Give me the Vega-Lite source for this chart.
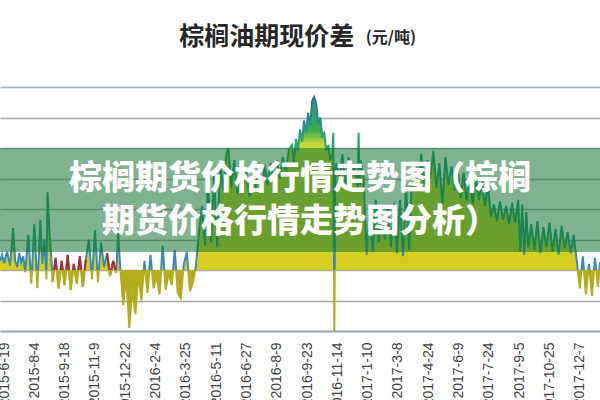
{
  "$schema": "https://vega.github.io/schema/vega-lite/v6.json",
  "width": 600,
  "height": 244,
  "autosize": {"type": "none"},
  "padding": {"top": 87, "left": 0, "right": 0, "bottom": 69},
  "background": "white",
  "config": {
    "view": {"stroke": null},
    "axisY": {
      "grid": true,
      "labels": false,
      "ticks": false,
      "domain": false,
      "title": null,
      "gridWidth": 1.5,
      "gridOpacity": 0.75,
      "zindex": 1
    },
    "axisX": {
      "grid": false,
      "ticks": false,
      "tickSize": 0,
      "domainColor": "#7d9dc4",
      "domainWidth": 1.5,
      "labelAngle": -90,
      "labelPadding": 11,
      "labelFont": "Liberation Sans",
      "labelFontSize": 14,
      "labelColor": "#404040",
      "labelOverlap": false,
      "labelFlush": false,
      "title": null,
      "zindex": 1
    }
  },
  "data": {
    "values": [
      {"day": -4, "spread": 60}, {"day": -2, "spread": 100}, {"day": 0, "spread": 45}, {"day": 3, "spread": 120},
      {"day": 6, "spread": 30}, {"day": 9, "spread": 275}, {"day": 11, "spread": 60}, {"day": 13, "spread": 20},
      {"day": 15, "spread": 110}, {"day": 17, "spread": 50}, {"day": 19, "spread": 90}, {"day": 21, "spread": -15},
      {"day": 24, "spread": 230}, {"day": 27, "spread": -90}, {"day": 30, "spread": 300}, {"day": 33, "spread": -120},
      {"day": 36, "spread": 330}, {"day": 38, "spread": 40}, {"day": 40, "spread": 200}, {"day": 42, "spread": -60},
      {"day": 43, "spread": 510}, {"day": 45, "spread": 250}, {"day": 47, "spread": 60},
      {"day": 48, "spread": -80}, {"day": 51, "spread": 80}, {"day": 54, "spread": -120}, {"day": 57, "spread": 60},
      {"day": 60, "spread": -100}, {"day": 63, "spread": 100}, {"day": 66, "spread": -130}, {"day": 69, "spread": 40},
      {"day": 72, "spread": -90}, {"day": 75, "spread": 90}, {"day": 78, "spread": -110}, {"day": 81, "spread": 70},
      {"day": 84, "spread": 200}, {"day": 87, "spread": -60}, {"day": 90, "spread": 262}, {"day": 93, "spread": -80},
      {"day": 96, "spread": 180}, {"day": 99, "spread": 20},
      {"day": 102, "spread": 110}, {"day": 105, "spread": -40}, {"day": 108, "spread": 60}, {"day": 111, "spread": -20},
      {"day": 113, "spread": 250}, {"day": 115, "spread": 20},
      {"day": 118, "spread": -230}, {"day": 121, "spread": -40}, {"day": 124, "spread": -380}, {"day": 127, "spread": -120},
      {"day": 130, "spread": -290}, {"day": 133, "spread": -30}, {"day": 136, "spread": -200},
      {"day": 139, "spread": 60}, {"day": 142, "spread": -150}, {"day": 145, "spread": 100}, {"day": 148, "spread": -120},
      {"day": 151, "spread": -40}, {"day": 154, "spread": -160}, {"day": 157, "spread": 160}, {"day": 160, "spread": -130},
      {"day": 163, "spread": -20}, {"day": 166, "spread": -100}, {"day": 169, "spread": 130}, {"day": 172, "spread": -150},
      {"day": 175, "spread": -185}, {"day": 178, "spread": 40}, {"day": 181, "spread": 118}, {"day": 184, "spread": -140},
      {"day": 187, "spread": -80},
      {"day": 190, "spread": 30}, {"day": 193, "spread": 250}, {"day": 196, "spread": 420}, {"day": 199, "spread": 160},
      {"day": 202, "spread": 560}, {"day": 205, "spread": 180}, {"day": 208, "spread": 620}, {"day": 211, "spread": 150},
      {"day": 214, "spread": 700}, {"day": 217, "spread": 520}, {"day": 220, "spread": 760}, {"day": 222, "spread": 800},
      {"day": 225, "spread": 540}, {"day": 228, "spread": 720}, {"day": 231, "spread": 500}, {"day": 234, "spread": 680},
      {"day": 237, "spread": 560}, {"day": 240, "spread": 640}, {"day": 243, "spread": 480}, {"day": 246, "spread": 620},
      {"day": 249, "spread": 540}, {"day": 252, "spread": 660}, {"day": 255, "spread": 500}, {"day": 258, "spread": 690},
      {"day": 261, "spread": 560}, {"day": 264, "spread": 700}, {"day": 267, "spread": 580}, {"day": 270, "spread": 720},
      {"day": 273, "spread": 600}, {"day": 276, "spread": 740}, {"day": 279, "spread": 650}, {"day": 282, "spread": 790},
      {"day": 285, "spread": 820}, {"day": 287, "spread": 700}, {"day": 289, "spread": 860}, {"day": 291, "spread": 780},
      {"day": 293, "spread": 920}, {"day": 295, "spread": 840}, {"day": 297, "spread": 980}, {"day": 299, "spread": 900},
      {"day": 301, "spread": 1030}, {"day": 303, "spread": 940}, {"day": 305, "spread": 1110}, {"day": 307, "spread": 1134},
      {"day": 309, "spread": 1090}, {"day": 311, "spread": 960}, {"day": 313, "spread": 1000}, {"day": 315, "spread": 880},
      {"day": 317, "spread": 900}, {"day": 319, "spread": 780}, {"day": 321, "spread": 820}, {"day": 323, "spread": 720},
      {"day": 325, "spread": 760}, {"day": 326, "spread": 900}, {"day": 327, "spread": -400}, {"day": 328, "spread": 650},
      {"day": 329, "spread": 700}, {"day": 332, "spread": 600}, {"day": 335, "spread": 760}, {"day": 338, "spread": 560},
      {"day": 341, "spread": 740}, {"day": 344, "spread": 620}, {"day": 347, "spread": 700}, {"day": 350, "spread": 540},
      {"day": 351, "spread": 900}, {"day": 352, "spread": 560}, {"day": 353, "spread": 720}, {"day": 356, "spread": 600},
      {"day": 359, "spread": 100}, {"day": 362, "spread": 420}, {"day": 365, "spread": 120}, {"day": 368, "spread": 460},
      {"day": 371, "spread": 180}, {"day": 374, "spread": 420}, {"day": 377, "spread": 200}, {"day": 380, "spread": 400},
      {"day": 383, "spread": 150}, {"day": 386, "spread": 440}, {"day": 389, "spread": 110}, {"day": 392, "spread": 460},
      {"day": 395, "spread": 90}, {"day": 398, "spread": 560}, {"day": 401, "spread": 130}, {"day": 404, "spread": 640},
      {"day": 407, "spread": 700}, {"day": 410, "spread": 520}, {"day": 413, "spread": 760}, {"day": 416, "spread": 560},
      {"day": 419, "spread": 720}, {"day": 422, "spread": 600}, {"day": 425, "spread": 780}, {"day": 428, "spread": 540},
      {"day": 431, "spread": 700}, {"day": 434, "spread": 430}, {"day": 437, "spread": 740}, {"day": 440, "spread": 560},
      {"day": 443, "spread": 680}, {"day": 446, "spread": 520}, {"day": 449, "spread": 660},
      {"day": 452, "spread": 470}, {"day": 455, "spread": 640}, {"day": 458, "spread": 450}, {"day": 461, "spread": 620},
      {"day": 464, "spread": 430}, {"day": 467, "spread": 600}, {"day": 470, "spread": 460}, {"day": 473, "spread": 580},
      {"day": 476, "spread": 420}, {"day": 479, "spread": 560},
      {"day": 482, "spread": 350}, {"day": 485, "spread": 430}, {"day": 488, "spread": 320}, {"day": 491, "spread": 450},
      {"day": 494, "spread": 330}, {"day": 497, "spread": 420}, {"day": 500, "spread": 300}, {"day": 503, "spread": 440},
      {"day": 506, "spread": 310},
      {"day": 509, "spread": 460}, {"day": 511, "spread": 120}, {"day": 513, "spread": 430}, {"day": 515, "spread": 100},
      {"day": 517, "spread": 380}, {"day": 519, "spread": 150},
      {"day": 522, "spread": 300}, {"day": 525, "spread": 130}, {"day": 528, "spread": 320}, {"day": 531, "spread": 110},
      {"day": 534, "spread": 280}, {"day": 537, "spread": 150}, {"day": 540, "spread": 310}, {"day": 543, "spread": 120},
      {"day": 546, "spread": 270}, {"day": 549, "spread": 100}, {"day": 552, "spread": 290}, {"day": 555, "spread": 140},
      {"day": 558, "spread": 250}, {"day": 561, "spread": 110}, {"day": 564, "spread": 230},
      {"day": 567, "spread": 60}, {"day": 570, "spread": -120}, {"day": 573, "spread": 90}, {"day": 576, "spread": -160},
      {"day": 579, "spread": 40}, {"day": 582, "spread": -170}, {"day": 585, "spread": 80}, {"day": 588, "spread": -110},
      {"day": 590, "spread": 50}
    ]
  },
  "layer": [
    {
      "mark": {
        "type": "area",
        "line": false,
        "color": {
          "gradient": "linear", "x1": 0, "y1": 0, "x2": 0, "y2": 1,
          "stops": [
            {"offset": 0, "color": "#2f9f5c"},
            {"offset": 0.14, "color": "#38ab4c"},
            {"offset": 0.2, "color": "#c4d638"},
            {"offset": 0.5, "color": "#cdd62a"},
            {"offset": 0.7385, "color": "#d7cc1c"},
            {"offset": 0.74, "color": "#b6ae1e"},
            {"offset": 1, "color": "#a9a21c"}
          ]
        }
      },
      "encoding": {
        "x": {
          "field": "day", "type": "quantitative",
          "scale": {"domain": [-4, 590], "nice": false, "zero": false},
          "axis": {
            "values": [0, 30, 60, 90, 120, 150, 180, 210, 240, 270, 300, 330, 360, 390, 420, 450, 480, 510, 540, 570],
            "tickCount": 30,
            "labelOverlap": false,
            "labelFlush": false,
            "labelBound": false,
            "labelExpr": "['2015-6-19','2015-8-4','2015-9-18','2015-11-9','2015-12-22','2016-2-4','2016-3-25','2016-5-11','2016-6-27','2016-8-9','2016-9-23','2016-11-14','2017-1-10','2017-3-8','2017-4-24','2017-6-9','2017-7-24','2017-9-5','2017-10-25','2017-12-7'][round(datum.value / 30)]"
          }
        },
        "y": {
          "field": "spread", "type": "quantitative",
          "scale": {"domain": [-400, 1200], "nice": false},
          "axis": {
            "values": [-400, -200, 0, 200, 400, 600, 800, 1000, 1200],
            "tickCount": 12,
            "gridColor": {"condition": {"test": "datum.value === 1200", "value": "#6f93c0"}, "value": "#8a8a8a"}
          }
        }
      }
    },
    {
      "mark": {
        "type": "line",
        "strokeWidth": 2,
        "stroke": {
          "gradient": "linear", "x1": 0, "y1": 0, "x2": 0, "y2": 1,
          "stops": [
            {"offset": 0, "color": "#2b6d9e"},
            {"offset": 0.1, "color": "#2b86a0"},
            {"offset": 0.2, "color": "#27a86a"},
            {"offset": 0.3, "color": "#1f9a78"},
            {"offset": 0.62, "color": "#1f9a80"},
            {"offset": 0.67, "color": "#3a8ab8"},
            {"offset": 0.7385, "color": "#3a8ab8"},
            {"offset": 0.7395, "color": "#b3ac1e"},
            {"offset": 1, "color": "#b3ac1e"}
          ]
        }
      },
      "encoding": {
        "x": {"field": "day", "type": "quantitative"},
        "y": {"field": "spread", "type": "quantitative"}
      }
    },
    {
      "transform": [{"filter": {"field": "day", "range": [48, 81]}}],
      "mark": {
        "type": "line",
        "strokeWidth": 2,
        "stroke": {
          "gradient": "linear", "x1": 0, "y1": 0, "x2": 0, "y2": 1,
          "stops": [
            {"offset": 0, "color": "#b02c2c"},
            {"offset": 0.434, "color": "#b02c2c"},
            {"offset": 0.436, "color": "#b3ac1e"},
            {"offset": 1, "color": "#b3ac1e"}
          ]
        }
      },
      "encoding": {
        "x": {"field": "day", "type": "quantitative"},
        "y": {"field": "spread", "type": "quantitative"}
      }
    },
    {
      "transform": [{"filter": {"field": "day", "range": [102, 111]}}],
      "mark": {
        "type": "line",
        "strokeWidth": 2,
        "stroke": {
          "gradient": "linear", "x1": 0, "y1": 0, "x2": 0, "y2": 1,
          "stops": [
            {"offset": 0, "color": "#b02c2c"},
            {"offset": 0.732, "color": "#b02c2c"},
            {"offset": 0.735, "color": "#b3ac1e"},
            {"offset": 1, "color": "#b3ac1e"}
          ]
        }
      },
      "encoding": {
        "x": {"field": "day", "type": "quantitative"},
        "y": {"field": "spread", "type": "quantitative"}
      }
    },
    {
      "data": {"values": [{}]},
      "mark": {"type": "rect", "color": "#167533", "opacity": 0.55},
      "encoding": {
        "y": {"datum": 800, "type": "quantitative"},
        "y2": {"datum": 118}
      }
    },
    {
      "data": {"values": [{}]},
      "mark": {
        "type": "text",
        "text": ["棕榈期货价格行情走势图（棕榈", "期货价格行情走势图分析）"],
        "font": "Noto Sans CJK SC",
        "fontSize": 33,
        "fontWeight": 900,
        "color": "white",
        "align": "center",
        "baseline": "middle",
        "lineHeight": 43
      },
      "encoding": {
        "y": {"datum": 597, "type": "quantitative"}
      }
    },
    {
      "data": {"values": [{}]},
      "mark": {
        "type": "text",
        "text": "棕榈油期现价差",
        "font": "Noto Sans CJK SC",
        "fontSize": 25,
        "fontWeight": "bold",
        "color": "#262626",
        "align": "center",
        "baseline": "middle"
      },
      "encoding": {
        "x": {"datum": 260, "type": "quantitative"},
        "y": {"datum": 1527, "type": "quantitative"}
      }
    },
    {
      "data": {"values": [{}]},
      "mark": {
        "type": "text",
        "text": "(元/吨)",
        "font": "Noto Sans CJK SC",
        "fontSize": 16,
        "fontWeight": "bold",
        "color": "#262626",
        "align": "left",
        "baseline": "middle"
      },
      "encoding": {
        "x": {"datum": 358, "type": "quantitative"},
        "y": {"datum": 1521, "type": "quantitative"}
      }
    }
  ]
}
